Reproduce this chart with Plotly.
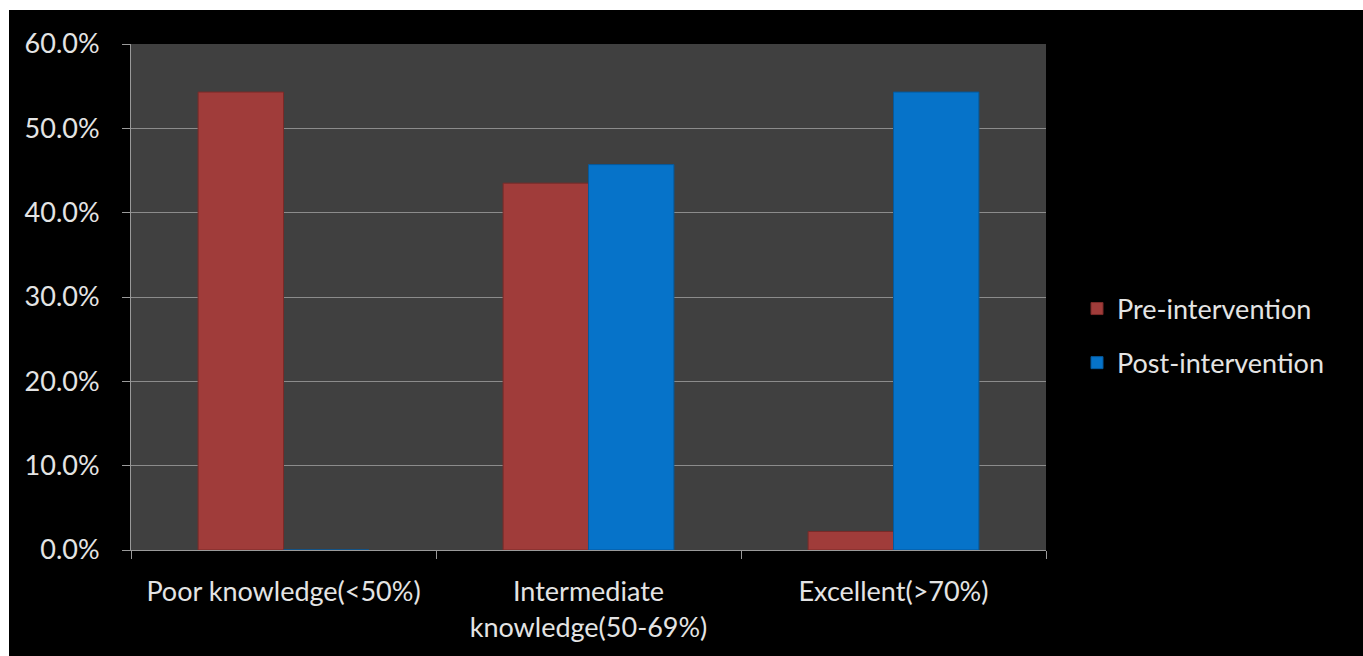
import plotly.graph_objects as go

categories = ["Poor knowledge(<50%)", "Intermediate<br>knowledge(50-69%)", "Excellent(>70%)"]
series_names = ["Pre-intervention", "Post-intervention"]
pre_values = [54.3, 43.5, 2.2]
post_values = [0.0, 45.7, 54.3]
y_tick_values = [0, 10, 20, 30, 40, 50, 60]
y_tick_labels = ["0.0%", "10.0%", "20.0%", "30.0%", "40.0%", "50.0%", "60.0%"]

colors = ["#a03c3a", "#0673c9"]
line_colors = ["#7a2a28", "#05599c"]

W, H = 1363, 656
L, R, T, B = 131, 317, 44, 106
pw, ph = W - L - R, H - T - B

fig = go.Figure()
for i, (name, vals) in enumerate(zip(series_names, [pre_values, post_values])):
    fig.add_trace(go.Bar(
        x=categories, y=vals, name=name,
        marker=dict(color=colors[i], line=dict(color=line_colors[i], width=1)),
        legendgroup=name,
    ))

font_family = "Lato, 'Open Sans', sans-serif"
text_color = "#e4e4e4"
fs = 27

fig.update_layout(
    width=W, height=H,
    margin=dict(l=L, r=R, t=T, b=B, autoexpand=False),
    paper_bgcolor="black",
    plot_bgcolor="#404040",
    barmode="group",
    bargap=0.44,
    bargroupgap=0.0,
    font=dict(family=font_family, size=fs, color=text_color),
    showlegend=True,
    legend=dict(
        x=(1077 - L) / pw, xanchor="left",
        y=(550 - 336) / ph, yanchor="middle",
        bgcolor="rgba(0,0,0,0)",
        font=dict(family=font_family, size=fs, color=text_color),
        tracegroupgap=16,
        traceorder="grouped",
    ),
    xaxis=dict(
        showgrid=False,
        showline=True, linecolor="#9a9a9a", linewidth=1,
        ticks="outside", tickson="boundaries", ticklen=8, tickcolor="#9a9a9a",
        tickfont=dict(family=font_family, size=fs, color=text_color),
        ticklabelstandoff=18,
        automargin=False,
    ),
    yaxis=dict(
        range=[0, 60],
        tickmode="array",
        tickvals=y_tick_values,
        ticktext=y_tick_labels,
        showgrid=True, gridcolor="#8c8c8c", gridwidth=1,
        showline=True, linecolor="#9a9a9a", linewidth=1,
        ticks="outside", ticklen=8, tickcolor="#9a9a9a",
        tickfont=dict(family=font_family, size=fs, color=text_color),
        ticklabelstandoff=17,
        zeroline=False,
        automargin=False,
    ),
    shapes=[
        # white frame strips at the top and left of the picture
        dict(type="rect", xref="paper", yref="paper",
             x0=(0 - L) / pw - 0.01, x1=(9 - L) / pw,
             y0=(550 - H) / ph - 0.05, y1=1 + T / ph + 0.01,
             fillcolor="white", line=dict(width=0), layer="above"),
        dict(type="rect", xref="paper", yref="paper",
             x0=(0 - L) / pw - 0.01, x1=(W - L) / pw + 0.01,
             y0=1 + (T - 10) / ph, y1=1 + T / ph + 0.01,
             fillcolor="white", line=dict(width=0), layer="above"),
    ],
)

fig.write_html("out.html")
